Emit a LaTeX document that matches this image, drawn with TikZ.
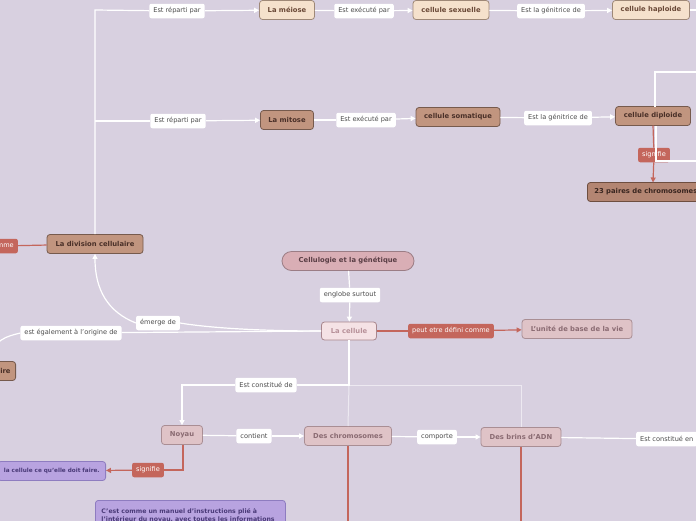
\documentclass[tikz,border=0pt]{standalone}
\usepackage{fontspec}
\setmainfont{DejaVu Sans}
\usetikzlibrary{arrows.meta}
\definecolor{bg}{HTML}{D8D0E0}
\definecolor{peachF}{HTML}{F5E1CC}\definecolor{peachD}{HTML}{9E8877}\definecolor{peachT}{HTML}{6B4A38}
\definecolor{brF}{HTML}{C1957F}\definecolor{brD}{HTML}{765A4D}\definecolor{brT}{HTML}{4A3028}
\definecolor{dbF}{HTML}{B38572}\definecolor{dbD}{HTML}{6E4E40}\definecolor{dbT}{HTML}{3A2620}
\definecolor{tiF}{HTML}{D9AEB5}\definecolor{tiD}{HTML}{9B7D85}\definecolor{tiT}{HTML}{5A3E45}
\definecolor{ceF}{HTML}{F5E2E5}\definecolor{ceD}{HTML}{A8868D}\definecolor{ceT}{HTML}{B79199}
\definecolor{pkF}{HTML}{DFC3C7}\definecolor{pkD}{HTML}{A98E94}\definecolor{pkT}{HTML}{8A6B72}
\definecolor{rd}{HTML}{C4665C}
\definecolor{puF}{HTML}{B8A3E0}\definecolor{puD}{HTML}{8E7CC0}\definecolor{puT}{HTML}{4A3A78}
\definecolor{lblT}{HTML}{4A4A4A}
\tikzset{
  box/.style={draw, line width=0.8pt, rounded corners=3pt, minimum height=19pt, inner xsep=5pt, font=\fontsize{6.8}{7}\selectfont\bfseries},
  peach/.style={box, fill=peachF, draw=peachD, text=peachT},
  brownbox/.style={box, fill=brF, draw=brD, text=brT},
  darkbox/.style={box, fill=dbF, draw=dbD, text=dbT},
  titlebox/.style={box, fill=tiF, draw=tiD, text=tiT, rounded corners=9.5pt},
  cellbox/.style={box, fill=ceF, draw=ceD, text=ceT},
  pinkbox/.style={box, fill=pkF, draw=pkD, text=pkT},
  purplebox/.style={box, fill=puF, draw=puD, text=puT, font=\fontsize{6.2}{7.6}\selectfont\bfseries},
  lbl/.style={fill=white, rounded corners=2pt, minimum height=14.5pt, inner xsep=4pt, text=lblT, font=\fontsize{6.6}{7}\selectfont},
  redlbl/.style={fill=rd, rounded corners=2pt, minimum height=14.5pt, inner xsep=4pt, text=white, font=\fontsize{6.6}{7}\selectfont},
  wline/.style={draw=white, line width=1.2pt},
  lline/.style={draw=white, draw opacity=0.55, line width=1pt},
  rline/.style={draw=rd, line width=1.2pt},
  tip/.style={-{Triangle[length=5pt,width=5pt]}},
}
\begin{document}
\begin{tikzpicture}[x=1pt,y=-1pt]
\useasboundingbox (0,0) rectangle (696,520);
\clip (0,0) rectangle (696,520);
\fill[bg] (-10,-10) rectangle (710,530);

% nodes
\node[lbl] (r1) at (177,11) {Est réparti par};
\node[peach, minimum width=55pt] (meiose) at (287,10) {La méiose};
\node[lbl] (e1) at (364,11) {Est exécuté par};
\node[peach, minimum width=76pt] (sex) at (451,10) {cellule sexuelle};
\node[lbl] (g1) at (551,11) {Est la génitrice de};
\node[peach, minimum width=77pt] (hap) at (651,10) {cellule haploide};
\coordinate (hapout) at (710,10);

\node[lbl] (r2) at (178,121) {Est réparti par};
\node[brownbox, minimum width=53pt] (mitose) at (287,120) {La mitose};
\node[lbl] (e2) at (366,120) {Est exécuté par};
\node[brownbox, minimum width=84pt] (soma) at (458,117) {cellule somatique};
\node[lbl] (g2) at (558,118) {Est la génitrice de};
\node[brownbox, minimum width=75pt] (dip) at (653,116) {cellule diploide};
\node[redlbl] (sig1) at (654,155) {signifie};
\node[darkbox, anchor=west, inner xsep=7pt] (paires) at (587,192) {23 paires de chromosomes};
\coordinate (dipA) at (710,72);
\coordinate (dipB) at (710,161);

\node[brownbox, minimum width=96pt] (div) at (95,244) {La division cellulaire};
\node[redlbl, anchor=east] (def2) at (18,246) {comme};

\node[titlebox, minimum width=132pt] (title) at (348,261) {Cellulogie et la génétique};
\node[lbl] (eng) at (350,295) {englobe surtout};
\node[cellbox, minimum width=55pt, minimum height=18pt] (cell) at (349,331) {La cellule};
\node[redlbl] (peut) at (451,331) {peut etre défini comme};
\node[pinkbox, minimum width=110pt] (unite) at (577,329) {L'unité de base de la vie};

\node[lbl] (em) at (158,323) {émerge de};
\node[lbl] (ega) at (71,333) {est également à l'origine de};
\node[brownbox, anchor=east] (rep) at (16,371) {cellulaire};

\node[lbl] (cons) at (266,385) {Est constitué de};
\node[pinkbox, minimum width=41pt] (noyau) at (182,435) {Noyau};
\node[lbl] (cont) at (254,436) {contient};
\node[pinkbox, minimum width=87pt] (chrom) at (348,436) {Des chromosomes};
\node[lbl] (comp) at (437,437) {comporte};
\node[pinkbox, minimum width=80pt] (adn) at (521,437) {Des brins d'ADN};
\node[lbl, anchor=west] (cpt) at (636,439) {Est constitué en};
\coordinate (chromout) at (348,530);
\coordinate (adnout) at (521,530);

\node[redlbl] (sig2) at (148,470) {signifie};
\node[purplebox, anchor=east, inner xsep=6pt, font=\fontsize{5.7}{7}\selectfont\bfseries] (dit) at (106,471) {la cellule ce qu'elle doit faire.};
\node[purplebox, anchor=north west, align=left, text width=178pt, minimum height=30pt, inner xsep=6pt, inner ysep=2pt] (manuel) at (95,500) {C'est comme un manuel d'instructions plié à\\l'intérieur du noyau, avec toutes les informations\\[8pt]};

% connectors
\draw[wline] (div.north) -- (95,10) -- (r1);
\draw[wline, tip] (r1) -- (meiose);
\draw[wline] (meiose) -- (e1);
\draw[wline, tip] (e1) -- (sex);
\draw[wline] (sex) -- (g1);
\draw[wline, tip] (g1) -- (hap);
\draw[wline] (hap) -- (hapout);

\draw[wline] (95,121) -- (r2);
\draw[wline, tip] (r2) -- (mitose);
\draw[wline] (mitose) -- (e2);
\draw[wline, tip] (e2) -- (soma);
\draw[wline] (soma) -- (g2);
\draw[wline, tip] (g2) -- (dip);
\draw[wline] (dipA) -- (655,72) -- (655,106.5);
\draw[wline] (dipB) -- (656,161) -- (656,125.5);
\draw[rline] (653,125.5) -- (sig1);
\draw[rline, tip] (sig1) -- (653,182.5);

\draw[rline] (def2) -- (div);

\draw[wline] (title) -- (eng);
\draw[wline, tip] (eng) -- (cell);
\draw[rline] (cell) -- (peut);
\draw[rline, tip] (peut) -- (unite);

\draw[wline] (cell.west) .. controls (260,331) and (210,328) .. (em.east);
\draw[wline, tip] (em.west) .. controls (108,312) and (95,290) .. (div.south);
\draw[wline] (cell.west) -- (ega);
\draw[wline] (ega.west) .. controls (8,336) and (-10,340) .. (rep.north);

\draw[wline] (cell.south) -- (349,385) -- (cons);
\draw[wline, tip] (cons) -| (noyau);
\draw[lline] (349,385) -- (chrom.north);
\draw[lline] (349,385) -- (521,385) -- (adn.north);
\draw[wline] (noyau) -- (cont);
\draw[wline, tip] (cont) -- (chrom);
\draw[wline] (chrom) -- (comp);
\draw[wline, tip] (comp) -- (adn);
\draw[wline] (adn) -- (cpt);
\draw[rline] (chrom) -- (chromout);
\draw[rline] (adn) -- (adnout);
\draw[rline] (183,444.5) |- (sig2);
\draw[rline, tip] (sig2) -- (dit);
\end{tikzpicture}
\end{document}
